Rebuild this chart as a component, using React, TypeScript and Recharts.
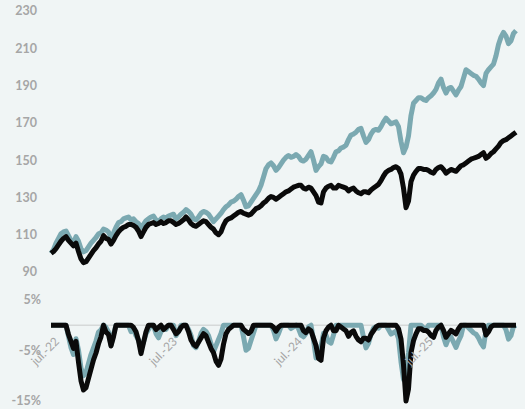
import React from "react";
import { LineChart, Line, XAxis, YAxis, ReferenceLine } from "recharts";

// Index levels (base 100), one value per period
const tealIndex = [
  100.0, 102.0, 105.5, 108.0, 110.5, 111.5, 112.0, 109.5, 107.0, 105.5,
  109.0, 106.5, 102.5, 100.8, 101.5, 103.5, 105.5, 107.0, 108.5, 110.5,
  111.0, 113.0, 112.5, 111.5, 108.5, 111.0, 114.0, 116.5, 117.0, 118.5,
  119.0, 119.5, 118.0, 118.5, 117.0, 116.0, 114.0, 115.5, 117.5, 118.5,
  119.5, 120.0, 118.0, 117.0, 118.5, 119.5, 119.0, 120.0, 120.5, 121.0,
  118.5, 119.5, 121.0, 122.0, 123.5, 122.5, 121.0, 118.5, 118.0, 119.5,
  121.5, 122.5, 122.0, 121.0, 119.0, 117.0, 118.5, 120.0, 121.5, 123.5,
  125.0, 126.0, 127.5, 128.0, 129.0, 130.5, 131.5, 128.5, 125.0, 125.5,
  127.5, 129.5, 131.5, 133.5, 136.5, 141.0, 145.5, 147.5, 148.5, 147.0,
  144.5, 146.0, 148.0, 150.0, 151.5, 152.5, 151.5, 152.0, 153.0, 152.0,
  150.0, 149.5, 150.5, 152.5, 154.5, 150.0, 144.5, 146.5, 148.0, 152.0,
  151.5, 149.5, 149.0, 151.5, 154.5, 155.0, 156.5, 157.0, 158.0, 161.0,
  163.5, 164.0, 165.0, 166.5, 167.0, 163.0, 159.5, 161.0, 164.0, 166.0,
  166.5, 166.0, 168.0, 170.5, 172.5, 171.0, 169.5, 170.0, 170.5, 168.0,
  160.0, 154.0, 157.0, 163.0, 174.0, 180.5, 182.0, 183.5, 183.5, 182.5,
  182.0, 183.5, 184.5, 186.0, 188.0, 191.5, 193.5, 189.0, 186.0, 188.5,
  189.0, 187.0, 185.0, 187.5, 189.5, 194.0, 198.5, 197.5, 196.5, 195.5,
  195.0, 193.5, 191.5, 190.0, 196.5, 198.5, 200.0, 201.5, 206.0, 212.0,
  216.0, 218.5, 216.5, 212.5, 214.0, 218.0, 219.5,
];
const blackIndex = [
  100.0, 101.0, 102.5, 104.5, 106.5, 108.0, 109.0, 107.0, 105.5, 104.0,
  105.5, 101.0, 97.0, 95.0, 95.5, 97.5, 99.5, 101.5, 103.0, 105.0,
  106.5, 109.5, 108.0, 107.5, 105.0, 107.0, 109.5, 111.5, 113.0, 114.0,
  114.5, 115.5, 115.5, 115.0, 114.0, 112.0, 109.0, 111.5, 114.0, 115.5,
  116.0, 116.5, 115.5, 116.0, 117.0, 116.0, 116.5, 117.5, 117.5, 116.5,
  115.5, 116.0, 117.0, 118.0, 119.5, 118.0, 116.0, 115.0, 114.5, 115.5,
  116.5, 117.5, 117.0, 115.5, 114.0, 113.0, 111.0, 110.0, 111.5, 115.0,
  117.5, 118.5, 119.0, 120.0, 121.0, 122.0, 122.5, 121.5, 121.0, 120.5,
  121.0, 122.5, 124.0, 124.5, 125.5, 127.0, 128.0, 129.5, 130.5, 130.0,
  129.0, 130.0, 131.0, 132.0, 133.0, 133.5, 134.5, 135.5, 136.0, 136.5,
  136.5, 135.0, 134.5, 135.5, 135.0, 133.0, 131.0, 127.5, 127.0, 133.0,
  135.0, 136.0, 136.5, 135.0, 135.0, 136.5, 136.0, 135.5, 135.0, 133.5,
  134.5, 135.0, 133.5, 132.5, 132.0, 133.0, 133.0, 132.5, 134.0, 135.0,
  136.0, 137.0, 139.0, 141.5, 143.5, 144.5, 145.0, 146.0, 146.5, 145.5,
  142.5, 135.0, 124.5, 128.0, 138.5, 142.0, 144.0, 145.5, 145.5, 145.0,
  145.0, 144.5, 143.5, 143.0, 145.0, 146.0, 146.5, 145.0, 143.0, 144.0,
  145.0, 144.5, 144.0, 145.5, 147.0, 147.5, 148.5, 149.5, 150.5, 151.0,
  151.5, 152.0, 153.0, 154.0, 151.0, 152.0, 153.5, 154.5, 156.0, 157.5,
  159.5, 160.5, 161.0, 162.0, 163.0, 164.0, 165.0,
];

// Period positions of the July labels and their text
const xTickPeriods = [3.6, 50.8, 100.8, 153.2];
const xTickLabels = ["jul.-22", "jul.-23", "jul.-24", "jul.-25"];
const priceTicks = [90, 110, 130, 150, 170, 190, 210, 230];
const ddTicks = [-0.15, -0.05, 0.05];

const W = 525;
const H = 409;
const BG = "#f0f5f5";
const TEAL = "#7ba9b1";
const BLACK = "#0a0a0a";
const GREY = "#a6a6a6";
const FONT = "Lato, 'Open Sans', sans-serif";
const STROKE = 5;

const DD_MIN = -0.15;
const DD_MAX = 0.05;
const DD_MARGIN = { top: 300, right: 9, bottom: 7, left: 0 };
const X_AXIS_H = 1;
const DD_PLOT_H = H - DD_MARGIN.top - DD_MARGIN.bottom - X_AXIS_H;

function drawdown(arr: number[]): number[] {
  let peak = -Infinity;
  return arr.map((v) => {
    peak = Math.max(peak, v);
    return v / peak - 1;
  });
}

const ddTeal = drawdown(tealIndex);
const ddBlack = drawdown(blackIndex);

const data = tealIndex.map((a, i) => ({
  p: i,
  a,
  b: blackIndex[i],
  da: ddTeal[i],
  db: ddBlack[i],
}));

const lastP = tealIndex.length - 1;

const renderXTick = (props: any) => {
  const { x, y, payload, index } = props;
  const zeroShift = (DD_PLOT_H * (0 - DD_MIN)) / (DD_MAX - DD_MIN);
  const ax = x;
  const ay = y - zeroShift + 17;
  let idx = xTickPeriods.indexOf(payload?.value);
  if (idx < 0) idx = index ?? 0;
  return (
    <text
      key={`xt-${idx}`}
      x={ax}
      y={ay}
      transform={`rotate(-45, ${ax}, ${ay})`}
      textAnchor="end"
      fill={GREY}
      fontSize={12}
      fontFamily={FONT}
    >
      {xTickLabels[idx] ?? ""}
    </text>
  );
};

export default function App() {
  return (
    <div
      style={{
        position: "absolute",
        left: 0,
        top: 0,
        width: W,
        height: H,
        background: BG,
      }}
    >
      <LineChart
        width={W}
        height={H}
        data={data}
        margin={{ top: 11, right: 9, bottom: 137, left: 0 }}
        style={{ position: "absolute", left: 0, top: 0 }}
      >
        <XAxis dataKey="p" type="number" domain={[0, lastP]} hide />
        <YAxis
          domain={[90, 230]}
          ticks={priceTicks}
          interval={0}
          width={51}
          axisLine={false}
          tickLine={false}
          tickSize={0}
          tickMargin={14}
          tick={{ fill: GREY, fontSize: 12.5, fontFamily: FONT, fontWeight: 700 }}
        />
        <Line
          dataKey="a"
          stroke={TEAL}
          strokeWidth={STROKE}
          dot={false}
          strokeLinejoin="round"
          isAnimationActive={false}
        />
        <Line
          dataKey="b"
          stroke={BLACK}
          strokeWidth={STROKE}
          dot={false}
          strokeLinejoin="round"
          isAnimationActive={false}
        />
      </LineChart>

      <LineChart
        width={W}
        height={H}
        data={data}
        margin={DD_MARGIN}
        style={{ position: "absolute", left: 0, top: 0 }}
      >
        <ReferenceLine y={0} stroke="#d6d9d9" strokeWidth={1.5} />
        <XAxis
          dataKey="p"
          type="number"
          domain={[0, lastP]}
          ticks={xTickPeriods}
          interval={0}
          height={X_AXIS_H}
          axisLine={false}
          tickLine={false}
          tickSize={0}
          tickMargin={0}
          tick={renderXTick}
        />
        <YAxis
          domain={[DD_MIN, DD_MAX]}
          ticks={ddTicks}
          interval={0}
          width={51}
          axisLine={false}
          tickLine={false}
          tickSize={0}
          tickMargin={10}
          tickFormatter={(v: number) => `${Math.round(v * 100)}%`}
          tick={{ fill: GREY, fontSize: 12.5, fontFamily: FONT, fontWeight: 700 }}
        />
        <Line
          dataKey="da"
          stroke={TEAL}
          strokeWidth={STROKE}
          dot={false}
          strokeLinejoin="round"
          isAnimationActive={false}
        />
        <Line
          dataKey="db"
          stroke={BLACK}
          strokeWidth={STROKE}
          dot={false}
          strokeLinejoin="round"
          isAnimationActive={false}
        />
      </LineChart>
    </div>
  );
}
